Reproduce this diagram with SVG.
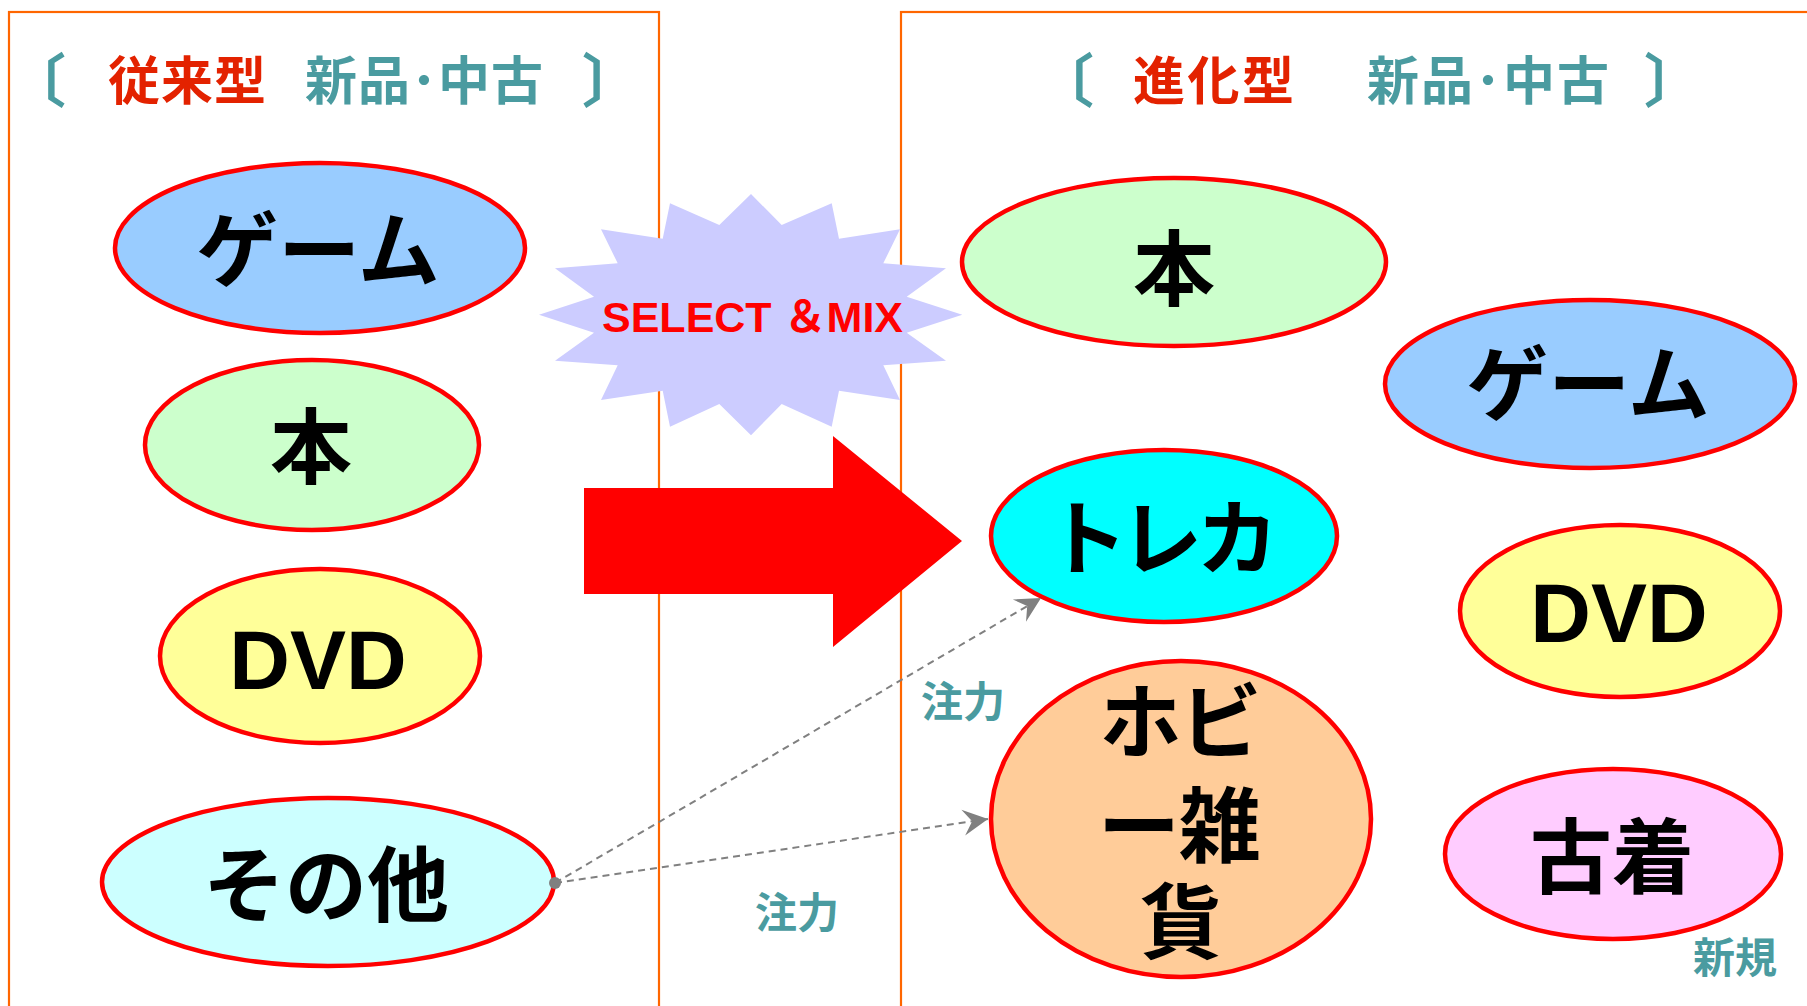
<svg xmlns="http://www.w3.org/2000/svg" width="1807" height="1006" viewBox="0 0 1807 1006">
<defs>
<style>
.frame{fill:none;stroke:#FF6600;stroke-width:2.2}
.el{stroke:#FF0000;stroke-width:4.5}
.lbl{font-family:"Noto Sans CJK JP","Noto Sans CJK SC",sans-serif;font-weight:bold;font-size:82px;fill:#000;text-anchor:middle}
.palt{font-feature-settings:"palt"}
.dvd{font-family:"Liberation Sans",Arial,sans-serif;font-weight:bold;font-size:84px;fill:#000;text-anchor:middle}
.ttl{font-family:"Noto Sans CJK JP","Noto Sans CJK SC",sans-serif;font-weight:bold;font-size:52px}
.brk{font-size:58px}
.red{fill:#E32200}
.teal{fill:#4A9BA0}
.note{font-family:"Noto Sans CJK JP","Noto Sans CJK SC",sans-serif;font-weight:bold;font-size:42px;fill:#4A9BA0;text-anchor:middle}
.conn{fill:none;stroke:#808080;stroke-width:2;stroke-dasharray:7 5}
</style>
<marker id="ah" viewBox="-27 -15 30 30" refX="0" refY="0" markerWidth="30" markerHeight="30" markerUnits="userSpaceOnUse" orient="auto">
<path d="M0,0 L-25,-13 L-16,0 L-25,13 Z" fill="#808080"/>
</marker>
</defs>
<rect width="1807" height="1006" fill="#FFFFFF"/>

<g id="frames">
<rect class="frame" x="9" y="12" width="650" height="1100"/>
<rect class="frame" x="901" y="12" width="1000" height="1100"/>
</g>

<g id="title-left">
<text class="ttl brk teal" x="8" y="102">〔</text>
<text class="ttl red" x="108" y="100" textLength="158" lengthAdjust="spacing">従来型</text>
<text class="ttl teal" x="305" y="100" textLength="238" lengthAdjust="spacing">新品･中古</text>
<text class="ttl brk teal" x="582" y="102">〕</text>
</g>
<g id="title-right">
<text class="ttl brk teal" x="1036" y="102">〔</text>
<text class="ttl red" x="1133" y="100" textLength="161" lengthAdjust="spacing">進化型</text>
<text class="ttl teal" x="1367" y="100" textLength="242" lengthAdjust="spacing">新品･中古</text>
<text class="ttl brk teal" x="1644" y="102">〕</text>
</g>

<g id="starburst">
<polygon fill="#CCCCFF" points="751,194 781.7,225 831.7,203.3 839,238.7 900,229.3 883.3,263.3 946,268.3 906.7,296.7 962.3,314.7 906.7,332.7 946,360.7 883.3,365.3 900,400 839,390.7 831.7,426.7 781.7,404 751,435.3 719.3,404 670,426.7 662.7,390.7 601,400 617.7,365.3 555,360.7 594,332.7 539,314.7 594,296.7 555,268.3 617.7,263.3 601,229.3 662.7,238.7 670,203.3 719.3,225"/>
<text x="602" y="332" font-family="'Liberation Sans','Noto Sans CJK JP',sans-serif" font-weight="bold" font-size="43" fill="#FF0000">SELECT ＆MIX</text>
</g>

<g id="big-arrow">
<polygon fill="#FF0000" points="584,488 833,488 833,436 962,541 833,647 833,594 584,594"/>
</g>

<g id="left-game">
<ellipse class="el" cx="320" cy="248" rx="205" ry="85" fill="#99CCFF"/>
<text class="lbl" x="318" y="280">ゲーム</text>
</g>
<g id="left-book">
<ellipse class="el" cx="312" cy="445" rx="167" ry="85" fill="#CCFFCC"/>
<text class="lbl" x="311" y="477">本</text>
</g>
<g id="left-dvd">
<ellipse class="el" cx="320" cy="656" rx="160" ry="87" fill="#FFFF99"/>
<text class="dvd" x="318" y="689">DVD</text>
</g>
<g id="left-other">
<ellipse class="el" cx="328" cy="882" rx="226" ry="84" fill="#CCFFFF"/>
<text class="lbl" x="326" y="915">その他</text>
</g>

<g id="right-book">
<ellipse class="el" cx="1174" cy="262" rx="212" ry="84" fill="#CCFFCC"/>
<text class="lbl" x="1174" y="299">本</text>
</g>
<g id="right-game">
<ellipse class="el" cx="1590" cy="384" rx="205" ry="84" fill="#99CCFF"/>
<text class="lbl" x="1588" y="414">ゲーム</text>
</g>
<g id="right-card">
<ellipse class="el" cx="1164" cy="536" rx="173" ry="86" fill="#00FFFF"/>
<text class="lbl palt" x="1165" y="568">トレカ</text>
</g>
<g id="right-dvd">
<ellipse class="el" cx="1620" cy="611" rx="160" ry="86" fill="#FFFF99"/>
<text class="dvd" x="1619" y="642">DVD</text>
</g>
<g id="right-hobby">
<ellipse class="el" cx="1181" cy="819" rx="190" ry="158" fill="#FFCC99"/>
<text class="lbl palt"><tspan x="1178" y="752">ホビ</tspan><tspan x="1180" y="856">ー雑</tspan><tspan x="1181" y="952">貨</tspan></text>
</g>
<g id="right-used">
<ellipse class="el" cx="1613" cy="854" rx="168" ry="85" fill="#FFCCFF"/>
<text class="lbl" x="1612" y="887">古着</text>
</g>

<g id="connectors">
<line class="conn" x1="555" y1="883" x2="1041" y2="598" marker-end="url(#ah)"/>
<line class="conn" x1="555" y1="883" x2="988" y2="819" marker-end="url(#ah)"/>
<circle cx="555" cy="883" r="6" fill="#808080"/>
</g>

<g id="notes">
<text class="note" x="963" y="717">注力</text>
<text class="note" x="797" y="928">注力</text>
<text class="note" x="1735" y="973">新規</text>
</g>
</svg>
